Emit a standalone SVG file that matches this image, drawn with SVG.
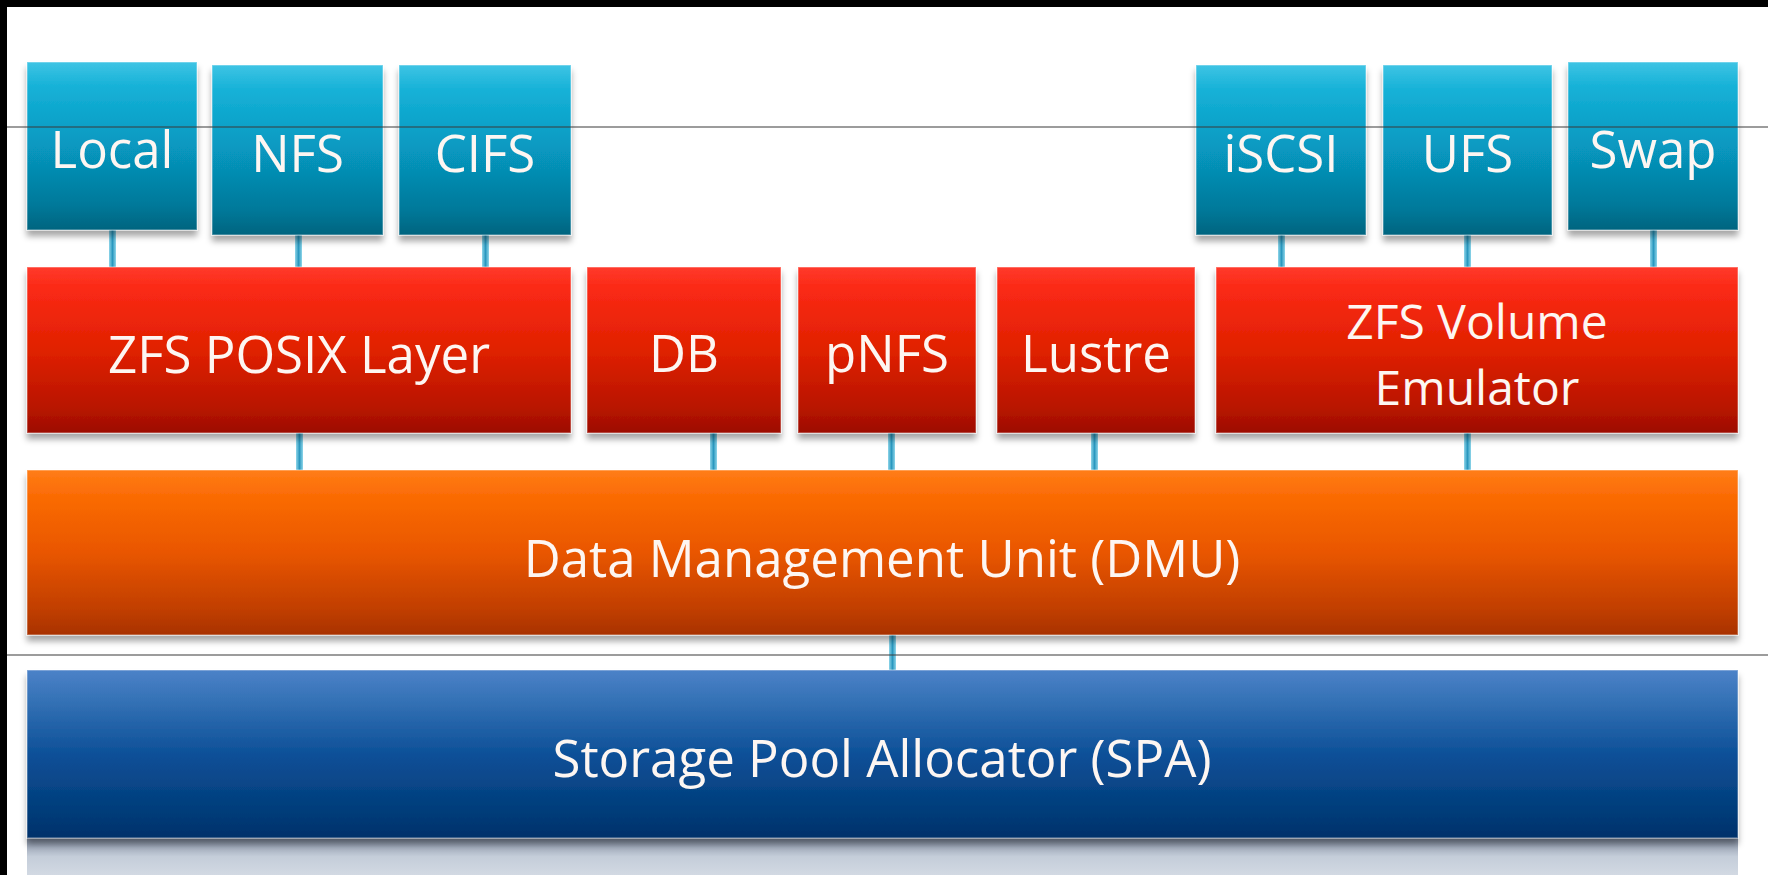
<svg xmlns="http://www.w3.org/2000/svg" width="1768" height="875" viewBox="0 0 1768 875">
<defs>
<linearGradient id="gCyan" x1="0" y1="0" x2="0" y2="1">
<stop offset="0" stop-color="#3ec4e4"/><stop offset="0.15" stop-color="#15b1d7"/><stop offset="0.5" stop-color="#0798c0"/><stop offset="0.85" stop-color="#04799a"/><stop offset="1" stop-color="#00647f"/>
</linearGradient>
<linearGradient id="gRed" x1="0" y1="0" x2="0" y2="1">
<stop offset="0" stop-color="#ff3a2c"/><stop offset="0.12" stop-color="#fb2a16"/><stop offset="0.5" stop-color="#e02100"/><stop offset="0.85" stop-color="#b81400"/><stop offset="1" stop-color="#9c0d00"/>
</linearGradient>
<linearGradient id="gOrange" x1="0" y1="0" x2="0" y2="1">
<stop offset="0" stop-color="#ff7d16"/><stop offset="0.15" stop-color="#fb6c06"/><stop offset="0.5" stop-color="#e95600"/><stop offset="0.85" stop-color="#c03e00"/><stop offset="1" stop-color="#a83200"/>
</linearGradient>
<linearGradient id="gBlue" x1="0" y1="0" x2="0" y2="1">
<stop offset="0" stop-color="#4c82c8"/><stop offset="0.2" stop-color="#3270b4"/><stop offset="0.5" stop-color="#0d5098"/><stop offset="0.85" stop-color="#023c79"/><stop offset="1" stop-color="#00306a"/>
</linearGradient>
<linearGradient id="gRefl" x1="0" y1="0" x2="0" y2="1">
<stop offset="0" stop-color="#7d889c"/><stop offset="0.3" stop-color="#a9b3c2"/><stop offset="0.5" stop-color="#c4cdd9"/><stop offset="1" stop-color="#d2d9e3"/>
</linearGradient>
<linearGradient id="gConn" x1="0" y1="0" x2="1" y2="0">
<stop offset="0" stop-color="#8fd6ea"/><stop offset="0.5" stop-color="#2a98bf"/><stop offset="1" stop-color="#8fd6ea"/>
</linearGradient>
<filter id="shadow" x="-5%" y="-10%" width="110%" height="130%">
<feDropShadow dx="0" dy="6" stdDeviation="3" flood-color="#000" flood-opacity="0.35"/>
</filter>
</defs>
<style>
.box{stroke:#ffffff;stroke-opacity:0.35;stroke-width:1.5;filter:url(#shadow)}
.cyan{fill:url(#gCyan)}
.red{fill:url(#gRed)}
.orange{fill:url(#gOrange)}
.blue{fill:url(#gBlue)}
.lbl{font-family:"Open Sans","Noto Sans","Liberation Sans",sans-serif;font-size:51px;fill:#fdf6f2;text-anchor:middle}
.lbl2{font-size:48px}
.conn{fill:url(#gConn)}
.rule{stroke:#3a3a3a;stroke-width:1.2}
</style>
<rect x="0" y="0" width="1768" height="875" fill="#ffffff"/>
<g id="connectors">
<rect class="conn" x="109" y="228" width="7" height="41"/>
<rect class="conn" x="295" y="233" width="7" height="36"/>
<rect class="conn" x="482" y="233" width="7" height="36"/>
<rect class="conn" x="1278" y="233" width="7" height="36"/>
<rect class="conn" x="1464" y="233" width="7" height="36"/>
<rect class="conn" x="1650" y="228" width="7" height="41"/>
<rect class="conn" x="296" y="431" width="7" height="41"/>
<rect class="conn" x="710" y="431" width="7" height="41"/>
<rect class="conn" x="888" y="431" width="7" height="41"/>
<rect class="conn" x="1091" y="431" width="7" height="41"/>
<rect class="conn" x="1464" y="431" width="7" height="41"/>
<rect class="conn" x="889" y="633" width="7" height="39"/>
</g>
<g id="node-local"><rect class="box cyan" x="27" y="62" width="170" height="168"/><text class="lbl" x="112" y="168">Local</text></g>
<g id="node-nfs"><rect class="box cyan" x="212" y="65" width="171" height="170"/><text class="lbl" x="297.5" y="172">NFS</text></g>
<g id="node-cifs"><rect class="box cyan" x="399" y="65" width="172" height="170"/><text class="lbl" x="485" y="172">CIFS</text></g>
<g id="node-iscsi"><rect class="box cyan" x="1196" y="65" width="170" height="170"/><text class="lbl" x="1281" y="172">iSCSI</text></g>
<g id="node-ufs"><rect class="box cyan" x="1383" y="65" width="169" height="170"/><text class="lbl" x="1467.5" y="172">UFS</text></g>
<g id="node-swap"><rect class="box cyan" x="1568" y="62" width="170" height="168"/><text class="lbl" x="1653" y="168">Swap</text></g>
<g id="node-posix"><rect class="box red" x="27" y="267" width="544" height="166"/><text class="lbl" x="299" y="373">ZFS POSIX Layer</text></g>
<g id="node-db"><rect class="box red" x="587" y="267" width="194" height="166"/><text class="lbl" x="684" y="372">DB</text></g>
<g id="node-pnfs"><rect class="box red" x="798" y="267" width="178" height="166"/><text class="lbl" x="887" y="372">pNFS</text></g>
<g id="node-lustre"><rect class="box red" x="997" y="267" width="198" height="166"/><text class="lbl" x="1096" y="372">Lustre</text></g>
<g id="node-zvol"><rect class="box red" x="1216" y="267" width="522" height="166"/><text class="lbl lbl2" x="1477" y="339">ZFS Volume<tspan x="1477" dy="66">Emulator</tspan></text></g>
<g id="node-dmu"><rect class="box orange" x="27" y="470" width="1711" height="165"/><text class="lbl" x="882" y="577">Data Management Unit (DMU)</text></g>
<g id="node-spa"><rect x="27" y="838" width="1711" height="37" fill="url(#gRefl)"/><rect class="box blue" x="27" y="670" width="1711" height="168"/><text class="lbl" x="882" y="777">Storage Pool Allocator (SPA)</text></g>
<line class="rule" x1="7" y1="127" x2="1768" y2="127"/>
<line class="rule" x1="7" y1="655" x2="1768" y2="655"/>
<rect x="0" y="0" width="1768" height="7" fill="#000"/>
<rect x="0" y="0" width="7" height="875" fill="#000"/>
</svg>
